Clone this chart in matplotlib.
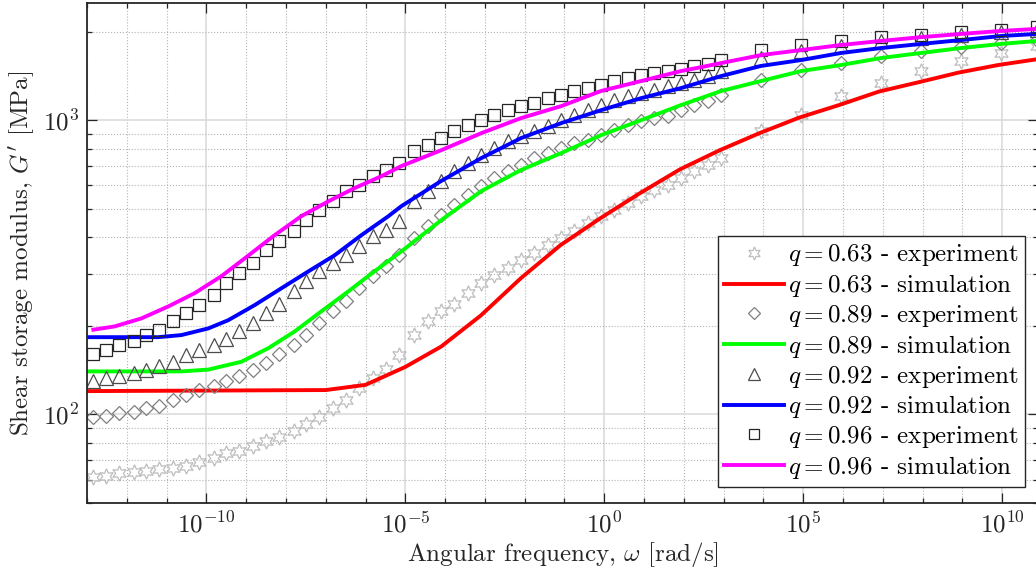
import matplotlib
matplotlib.use('Agg')
import matplotlib.pyplot as plt
from matplotlib.ticker import FixedLocator, FixedFormatter, NullFormatter, LogLocator

plt.rcParams['font.family'] = 'serif'
plt.rcParams['font.serif'] = ['cmr10']
plt.rcParams['mathtext.fontset'] = 'cm'
plt.rcParams['axes.formatter.use_mathtext'] = True
plt.rcParams['axes.unicode_minus'] = False

# log10 of angular frequency where the experimental curves were read
exp_lw = [-12.84, -12.51, -12.19, -11.83, -11.51, -11.18, -10.83, -10.50, -10.18, -9.82, -9.50, -9.17,
          -8.82, -8.49, -8.17, -7.81, -7.49, -7.16, -6.81, -6.48, -6.16, -5.80, -5.48, -5.15,
          -4.77, -4.42, -4.10, -3.77, -3.42, -3.09, -2.76, -2.41, -2.09, -1.76, -1.41, -1.08,
          -0.75, -0.40, -0.08, 0.25, 0.60, 0.93, 1.26, 1.61, 1.93, 2.26, 2.61, 2.94,
          3.94, 4.95, 5.95, 6.96, 7.96, 8.97, 9.97, 10.88]

exp63_G = [61.5, 62, 63, 63.5, 64, 65, 66, 67, 69, 71, 74, 75,
           78, 81, 84, 88, 93, 98, 105, 112, 123, 133, 143, 159,
           186, 207, 224, 238, 258, 279, 297, 314, 334, 353, 376, 397,
           419, 446, 472, 494, 522, 551, 578, 601, 635, 671, 703, 743,
           918, 1040, 1207, 1336, 1468, 1588, 1690, 1786]

exp89_G = [98, 99, 101, 102, 105, 107, 112, 116, 121, 125, 130, 135,
           141, 149, 161, 172, 186, 204, 224, 242, 268, 295, 319, 347,
           397, 436, 475, 514, 556, 596, 635, 671, 703, 743, 772, 803,
           835, 855, 889, 925, 962, 992, 1016, 1032, 1081, 1125, 1160, 1216,
           1368, 1479, 1563, 1651, 1717, 1772, 1828, 1871]

exp92_G = [130, 133, 135, 138, 141, 146, 151, 159, 165, 172, 181, 192,
           204, 221, 238, 262, 283, 306, 326, 347, 373, 403, 422, 453,
           530, 574, 620, 671, 714, 760, 803, 848, 882, 918, 954, 1000,
           1040, 1081, 1125, 1170, 1207, 1235, 1265, 1305, 1336, 1368, 1411, 1468,
           1625, 1717, 1786, 1857, 1901, 1946, 1992, 2023]

exp96_G = [161, 165, 172, 177, 186, 193, 207, 221, 235, 254, 279, 302,
           326, 361, 388, 419, 457, 494, 530, 574, 601, 645, 676, 714,
           784, 822, 869, 918, 962, 1000, 1040, 1081, 1116, 1143, 1188, 1216,
           1255, 1285, 1315, 1358, 1390, 1422, 1445, 1468, 1491, 1527, 1551, 1600,
           1730, 1800, 1857, 1916, 1946, 1992, 2023, 2072]

# simulation, q = 0.63
sim63_lw = [-13.0, -7.0, -6.0, -5.0, -4.1, -3.1, -2.1, -1.1, -0.1, 0.9, 1.9, 2.9, 3.9, 4.9,
            5.9, 6.9, 7.9, 8.9, 9.9, 10.9]
sim63_G = [120, 121, 126, 145, 170, 217, 290, 376, 464, 565, 680, 790, 903, 1020,
           1125, 1250, 1345, 1450, 1539, 1612]

# simulation, q = 0.89
sim89_lw = [-12.96, -10.63, -9.95, -9.12, -8.44, -7.79, -7.11, -6.43, -5.78, -5.10, -4.10, -3.09,
            -2.09, -1.08, -0.08, 0.93, 1.93, 2.94, 3.94, 4.95, 5.95, 6.96, 7.96, 8.97, 9.97, 10.88]
sim89_G = [140, 140, 142, 151, 168, 191, 224, 262, 306, 358, 457, 574,
           677, 773, 889, 1000, 1125, 1256, 1358, 1468, 1539, 1626, 1691, 1758, 1815, 1858]

# simulation, q = 0.92
sim92_lw = [-12.96, -11.21, -10.63, -9.95, -9.45, -8.79, -8.12, -7.44, -6.78, -6.11, -5.43, -5.10,
            -4.10, -3.09, -2.09, -1.08, -0.08, 0.93, 1.93, 2.94, 3.94, 4.95, 5.95, 6.96, 7.96,
            8.97, 9.97, 10.88]
sim92_G = [183, 183, 186, 196, 209, 235, 268, 306, 347, 406, 471, 510,
           621, 743, 869, 977, 1081, 1188, 1285, 1412, 1528, 1600, 1691, 1758, 1815,
           1871, 1931, 1963]

# simulation, q = 0.96
sim96_lw = [-12.84, -12.31, -11.63, -10.95, -10.30, -9.62, -8.94, -8.29, -7.62, -6.93, -6.28, -5.60,
            -5.10, -4.10, -3.09, -2.09, -1.08, -0.08, 0.93, 1.93, 2.44, 2.94, 3.94, 4.95, 5.95,
            6.96, 7.96, 8.97, 9.97, 10.88]
sim96_G = [194, 199, 212, 233, 258, 295, 347, 406, 471, 530, 587, 645,
           698, 790, 903, 1016, 1116, 1256, 1358, 1468, 1514, 1563, 1663, 1730, 1800,
           1858, 1914, 1963, 2009, 2042]

fig = plt.figure(figsize=(10.36, 5.73), dpi=100)
ax = fig.add_axes([87 / 1036, 70 / 573, 951 / 1036, 500 / 573])

def w(lw):
    return [10.0 ** v for v in lw]

mk = dict(ls='none', mfc='none', mew=0.9)
ax.plot(w(exp_lw), exp63_G, marker=(6, 1, 0), ms=11, mec='#bdbdbd', label='$q = 0.63$ - experiment', **mk)
ax.plot(w(sim63_lw), sim63_G, color='#ff0000', lw=2.8, label='$q = 0.63$ - simulation')
ax.plot(w(exp_lw), exp89_G, marker='D', ms=7.5, mec='#7f7f7f', label='$q = 0.89$ - experiment', **mk)
ax.plot(w(sim89_lw), sim89_G, color='#00ff00', lw=2.8, label='$q = 0.89$ - simulation')
ax.plot(w(exp_lw), exp92_G, marker='^', ms=10, mec='#4d4d4d', label='$q = 0.92$ - experiment', **mk)
ax.plot(w(sim92_lw), sim92_G, color='#0000ff', lw=2.8, label='$q = 0.92$ - simulation')
ax.plot(w(exp_lw), exp96_G, marker='s', ms=8, mec='#262626', label='$q = 0.96$ - experiment', **mk)
ax.plot(w(sim96_lw), sim96_G, color='#ff00ff', lw=2.8, label='$q = 0.96$ - simulation')

ax.set_xscale('log')
ax.set_yscale('log')
ax.set_xlim(1e-13, 10 ** 10.9)
ax.set_ylim(50, 2500)

ax.xaxis.set_major_locator(FixedLocator([1e-10, 1e-5, 1e0, 1e5, 1e10]))
ax.xaxis.set_major_formatter(FixedFormatter([r'$10^{-10}$', r'$10^{-5}$', r'$10^{0}$', r'$10^{5}$', r'$10^{10}$']))
ax.xaxis.set_minor_locator(FixedLocator([10.0 ** k for k in range(-13, 12)]))
ax.xaxis.set_minor_formatter(NullFormatter())
ax.yaxis.set_major_locator(FixedLocator([100, 1000]))
ax.yaxis.set_major_formatter(FixedFormatter([r'$10^{2}$', r'$10^{3}$']))
ax.yaxis.set_minor_locator(LogLocator(base=10, subs=range(2, 10)))
ax.yaxis.set_minor_formatter(NullFormatter())

ax.tick_params(which='both', direction='in', top=True, right=True, width=0.9, labelsize=18, colors='#262626')
ax.tick_params(which='major', length=7, pad=6)
ax.tick_params(which='minor', length=3.5)
for s in ax.spines.values():
    s.set_linewidth(1.3)
    s.set_color('#262626')

ax.set_axisbelow(True)
ax.grid(which='major', color='#dcdcdc', ls='-', lw=1.2)
ax.grid(which='minor', color='#b4b4b4', ls=':', lw=0.8)

ax.set_xlabel(r'Angular frequency, $\omega$ [rad/s]', fontsize=18, color='#262626', labelpad=2)
ax.set_ylabel(r"Shear storage modulus, $G'$ [MPa]", fontsize=18, color='#262626', labelpad=4)

leg = ax.legend(loc='lower right', bbox_to_anchor=(0.986, 0.032), borderaxespad=0, fontsize=18,
                fancybox=False, edgecolor='#262626', framealpha=1, handlelength=2.4,
                handletextpad=0.15, labelspacing=0.15, borderpad=0.25, markerscale=0.85)
leg.get_frame().set_linewidth(1.0)

fig.savefig('out.png', dpi=100)
